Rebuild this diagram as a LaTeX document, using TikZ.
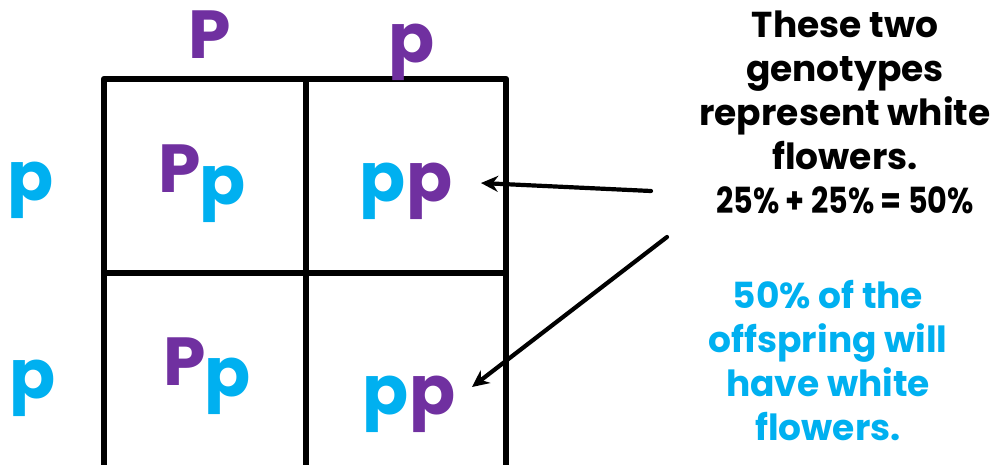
\documentclass[tikz,border=0pt]{standalone}
\usepackage{fontspec}
\usepackage{graphicx}
\setmainfont{Poppins}
\usetikzlibrary{arrows.meta}
\definecolor{purp}{HTML}{7030A0}
\definecolor{cyn}{HTML}{00B0F0}
\tikzset{
  every picture/.style={line join=round, line cap=round, >=Stealth},
  grid/.style={line width=6.5pt, line cap=rect},
  allele/.style={anchor=base, inner sep=0pt, font=\fontsize{68}{68}\selectfont\bfseries},
  purple allele/.style={allele, text=purp},
  cyan allele/.style={allele, text=cyn},
  note/.style={anchor=north, inner sep=0pt, align=center, font=\fontsize{36}{44}\selectfont\bfseries},
  pointer/.style={line width=4.2pt, arrows={-Stealth[length=17pt,width=16pt]}},
}

\begin{document}
\begin{tikzpicture}[x=1pt,y=-1pt]
\useasboundingbox (0,0) rectangle (993,464);
% punnett square
\draw[grid] (104,79) rectangle (506,470);
\draw[grid] (306,79) -- (306,470);
\draw[grid] (104,273) -- (506,273);
% parent alleles
\node[purple allele] (topP) at (210,58) {P};
\node[purple allele] (topp) at (412,62) {p};
\node[cyan allele] (leftp1) at (31,200) {p};
\node[cyan allele] (leftp2) at (33,398) {p};
% offspring
\node[purple allele] (c11P) at (180,192) {P};
\node[cyan allele] (c11p) at (223,204) {p};
\node[cyan allele] (c12a) at (383,201) {p};
\node[purple allele] (c12b) at (430,201) {p};
\node[purple allele] (c21P) at (185,385) {P};
\node[cyan allele] (c21p) at (228,396) {p};
\node[cyan allele] (c22a) at (386,414) {p};
\node[purple allele] (c22b) at (433,414) {p};
% notes
\node[note] (why) at (845,11) {These two\\genotypes\\represent white\\flowers.\\\scalebox{0.84}[1]{25\% + 25\% = 50\%}};
\node[note, text=cyn] (result) at (828,280) {50\% of the\\offspring will\\have white\\flowers.};
\coordinate (from1) at (651,191);
\coordinate (from2) at (667,237);
\coordinate (to1) at (481,183);
\coordinate (to2) at (472,387);
\draw[pointer] (from1) -- (to1);
\draw[pointer] (from2) -- (to2);
\end{tikzpicture}
\end{document}
